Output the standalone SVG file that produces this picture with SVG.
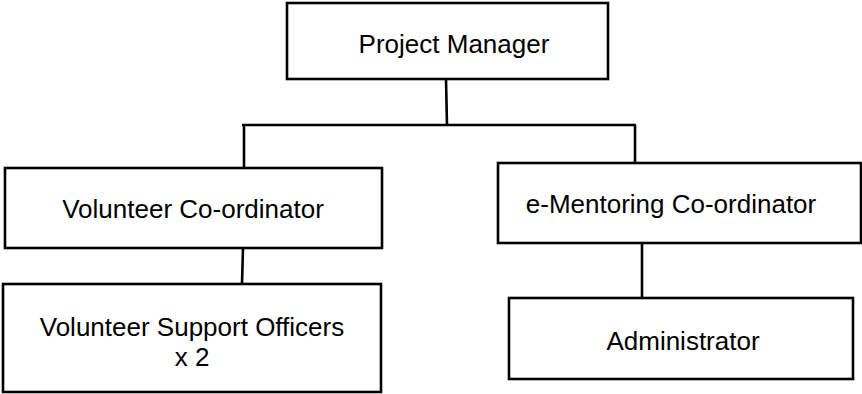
<svg xmlns="http://www.w3.org/2000/svg" width="862" height="394" viewBox="0 0 862 394">
<style>
.box{fill:#fff;stroke:#000;stroke-width:2.6}
.lbl{font-family:"Liberation Sans",Arial,sans-serif;font-size:26px;fill:#000;text-anchor:middle}
.ln{stroke:#000;stroke-width:2.6;fill:none}
</style>
<rect width="862" height="394" fill="#fff"/>
<g id="connectors">
<line class="ln" x1="446" y1="79" x2="447" y2="126"/>
<line class="ln" x1="242" y1="125" x2="636" y2="125"/>
<line class="ln" x1="244" y1="125" x2="244" y2="169"/>
<line class="ln" x1="635" y1="125" x2="635" y2="164"/>
<line class="ln" x1="243" y1="248" x2="242" y2="284"/>
<line class="ln" x1="642" y1="241" x2="642" y2="299"/>
</g>
<g id="project-manager">
<rect class="box" x="287" y="3" width="321" height="76"/>
<text class="lbl" x="454" y="53">Project Manager</text>
</g>
<g id="volunteer-coordinator">
<rect class="box" x="5" y="168" width="377" height="80"/>
<text class="lbl" x="193" y="218">Volunteer Co-ordinator</text>
</g>
<g id="e-mentoring-coordinator">
<rect class="box" x="498" y="163" width="363" height="80"/>
<text class="lbl" x="671" y="213">e-Mentoring Co-ordinator</text>
</g>
<g id="volunteer-support-officers">
<rect class="box" x="3" y="284" width="378" height="108"/>
<text class="lbl" x="192" y="336">Volunteer Support Officers</text>
<text class="lbl" x="192" y="366">x 2</text>
</g>
<g id="administrator">
<rect class="box" x="509" y="298" width="344" height="81"/>
<text class="lbl" x="683" y="350">Administrator</text>
</g>
</svg>
